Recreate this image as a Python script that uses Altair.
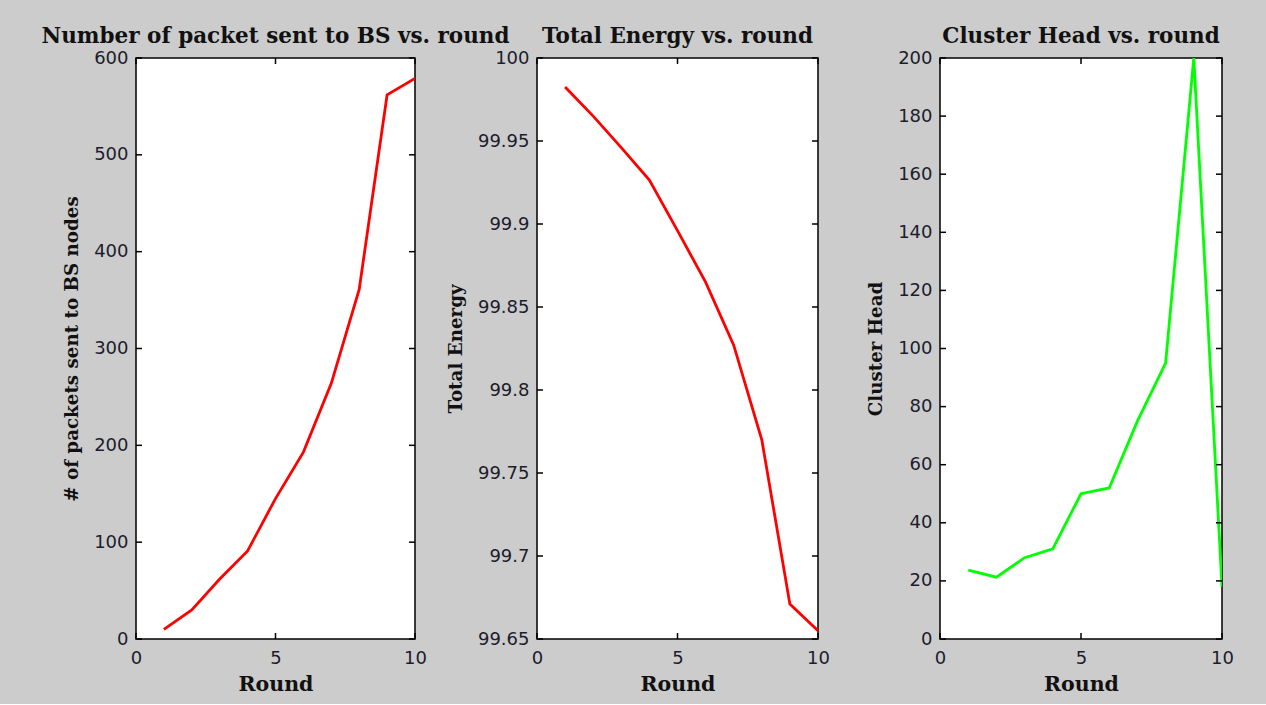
import altair as alt
import pandas as pd

rounds = [1, 2, 3, 4, 5, 6, 7, 8, 9, 10]
packets = [10, 30, 62, 91, 145, 193, 264, 361, 562, 579]
energy = [99.9825, 99.965, 99.946, 99.9265, 99.896, 99.865, 99.827, 99.770, 99.671, 99.655]
cluster_heads = [23.7, 21.3, 28, 31, 50, 52, 75, 95, 200, 18]

x_ticks = [0, 5, 10]
y_ticks_1 = [0, 100, 200, 300, 400, 500, 600]
y_ticks_2 = [99.65, 99.7, 99.75, 99.8, 99.85, 99.9, 99.95, 100]
y_ticks_3 = [0, 20, 40, 60, 80, 100, 120, 140, 160, 180, 200]

H = 581
SERIF = "DejaVu Serif"
SANS = "DejaVu Sans"
LABEL_COLOR = "#1c1c2c"


def panel(values, color, title, ytitle, ydomain, yticks, width):
    df = pd.DataFrame({"Round": rounds, "v": values})
    xscale = alt.Scale(domain=[0, 10], nice=False, zero=False)
    yscale = alt.Scale(domain=ydomain, nice=False, zero=False)
    xaxis = alt.Axis(values=x_ticks, title="Round", tickSize=0, domain=False,
                     labelPadding=10, titlePadding=7, grid=False, labelFlush=False,
                     titleFontSize=20.5)
    yaxis = alt.Axis(values=yticks, title=ytitle, tickSize=0, domain=False,
                     labelPadding=8, titlePadding=12, grid=False, format="~r",
                     labelFlush=False, titleFontSize=18.3)
    X = alt.X("Round:Q", scale=xscale, axis=xaxis)
    Y = alt.Y("v:Q", scale=yscale, axis=yaxis)
    line = alt.Chart(df).mark_line(color=color, strokeWidth=2.8, clip=True).encode(x=X, y=Y)
    xt = pd.DataFrame({"Round": x_ticks})
    yt = pd.DataFrame({"v": yticks})
    tick_style = dict(color="black", strokeWidth=1.5)
    xb = alt.Chart(xt).mark_rule(**tick_style).encode(
        x=X, y=alt.value(H), y2=alt.value(H - 6))
    xtop = alt.Chart(xt).mark_rule(**tick_style).encode(
        x=X, y=alt.value(0), y2=alt.value(6))
    yl = alt.Chart(yt).mark_rule(**tick_style).encode(
        y=Y, x=alt.value(0), x2=alt.value(6))
    yr = alt.Chart(yt).mark_rule(**tick_style).encode(
        y=Y, x=alt.value(width), x2=alt.value(width - 6))
    return alt.layer(line, xb, xtop, yl, yr).properties(
        width=width, height=H,
        title=alt.TitleParams(title, anchor="middle", offset=2),
    )


p1 = panel(packets, "#ff0000", "Number of packet sent to BS vs. round",
           "# of packets sent to BS nodes", [0, 600], y_ticks_1, 279)
p2 = panel(energy, "#ff0000", "Total Energy vs. round",
           "Total Energy", [99.65, 100], y_ticks_2, 281)
p3 = panel(cluster_heads, "#00ff00", "Cluster Head vs. round",
           "Cluster Head", [0, 200], y_ticks_3, 282)

chart = alt.hconcat(p1, p2, p3, spacing=122, bounds="flush").properties(
    background="#cccccc",
    padding={"left": 40, "top": 24, "right": 31, "bottom": 8},
).configure_view(
    stroke="black", strokeWidth=1.5, fill="white"
).configure_title(
    font=SERIF, fontSize=21.5, fontWeight="bold", color="#111111"
).configure_axis(
    labelFont=SANS, labelFontSize=18, labelColor=LABEL_COLOR,
    titleFont=SERIF, titleFontWeight="bold", titleColor="#111111",
)

chart.save("out.html", embed_options={"renderer": "svg", "actions": False})
